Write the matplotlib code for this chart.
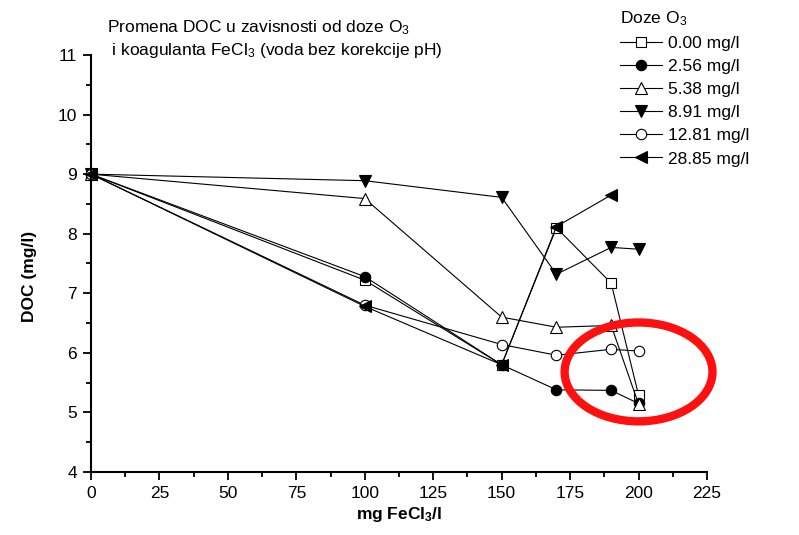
import matplotlib
matplotlib.use("Agg")
import matplotlib.pyplot as plt
from matplotlib.patches import Ellipse
from matplotlib.ticker import MultipleLocator

plt.rcParams["font.family"] = ["Liberation Sans", "DejaVu Sans"]
plt.rcParams["mathtext.fontset"] = "custom"
plt.rcParams["mathtext.rm"] = "Liberation Sans"
plt.rcParams["mathtext.it"] = "Liberation Sans:italic"
plt.rcParams["mathtext.bf"] = "Liberation Sans:bold"

# FeCl3 dose (mg/l)
fecl3 = [0, 100, 150, 170, 190, 200]
fecl3_last = [0, 100, 150, 170, 190]

# DOC (mg/l) for each ozone dose
doc_000 = [9.0, 7.22, 5.80, 8.10, 7.17, 5.29]
doc_256 = [9.0, 7.28, 5.80, 5.38, 5.37, 5.15]
doc_538 = [9.0, 8.59, 6.60, 6.43, 6.46, 5.14]
doc_891 = [9.0, 8.89, 8.61, 7.32, 7.77, 7.74]
doc_1281 = [9.0, 6.80, 6.14, 5.96, 6.06, 6.03]
doc_2885 = [9.0, 6.78, 5.80, 8.12, 8.65]

ozone_labels = ["0.00 mg/l", "2.56 mg/l", "5.38 mg/l", "8.91 mg/l",
                "12.81 mg/l", "28.85 mg/l"]

x_ticks = [0, 25, 50, 75, 100, 125, 150, 175, 200, 225]
y_ticks = [4, 5, 6, 7, 8, 9, 10, 11]

W, H = 799, 535
fig = plt.figure(figsize=(W / 100, H / 100), dpi=100)
ax = fig.add_axes([91 / W, 1 - 472 / H, 616 / W, 417 / H])

series = [
    (fecl3, doc_000, "s", "white"),
    (fecl3, doc_256, "o", "black"),
    (fecl3, doc_538, "^", "white"),
    (fecl3, doc_891, "v", "black"),
    (fecl3, doc_1281, "o", "white"),
    (fecl3_last, doc_2885, "<", "black"),
]
sizes = {"s": 7.0, "o": 7.5, "^": 8.5, "v": 8.5, "<": 8.5}

handles = []
for (xs, ys, mk, fc), lab in zip(series, ozone_labels):
    h, = ax.plot(xs, ys, color="black", lw=0.8, marker=mk, ms=sizes[mk],
                 mfc=fc, mec="black", mew=0.8, label=lab, clip_on=False)
    handles.append(h)

ax.set_xlim(0, 225)
ax.set_ylim(4, 11)
ax.set_xticks(x_ticks)
ax.set_yticks(y_ticks)
ax.xaxis.set_minor_locator(MultipleLocator(12.5))
ax.yaxis.set_minor_locator(MultipleLocator(0.5))

for s in ("top", "right"):
    ax.spines[s].set_visible(False)
for s in ("left", "bottom"):
    ax.spines[s].set_linewidth(1.5)

ax.tick_params(which="major", direction="out", length=6, width=1.3,
               labelsize=12.5, pad=4)
ax.tick_params(which="minor", direction="out", length=3.5, width=1.3)

ax.set_xlabel(r"mg FeCl$_\mathbf{3}$/l", fontsize=12.5, fontweight="bold")
ax.set_ylabel("DOC (mg/l)", fontsize=12.5, fontweight="bold")
ax.xaxis.set_label_coords(0.5, -0.08)
ax.yaxis.set_label_coords(-0.087, 0.468)

fig.text(107 / W, 1 - 28 / H, r"Promena DOC u zavisnosti od doze O$_3$",
         fontsize=12.5, ha="left", va="center")
fig.text(107 / W, 1 - 50 / H, r" i koagulanta FeCl$_3$ (voda bez korekcije pH)",
         fontsize=12.5, ha="left", va="center")

leg = fig.legend(handles=handles, labels=ozone_labels, loc="upper left",
                 bbox_to_anchor=(620 / W, 1 - 9 / H), frameon=False,
                 fontsize=12.5, title=r"Doze O$_3$", title_fontsize=12.5,
                 handlelength=2.4, handletextpad=0.35, labelspacing=0.46,
                 borderpad=0, borderaxespad=0, alignment="left")

# highlight of the lowest DOC values
ring = Ellipse((200, 5.68), 54, 1.66, fill=False, edgecolor="#ff1010",
               lw=6, clip_on=False, zorder=5)
ax.add_patch(ring)

fig.savefig("out.png", dpi=100)
